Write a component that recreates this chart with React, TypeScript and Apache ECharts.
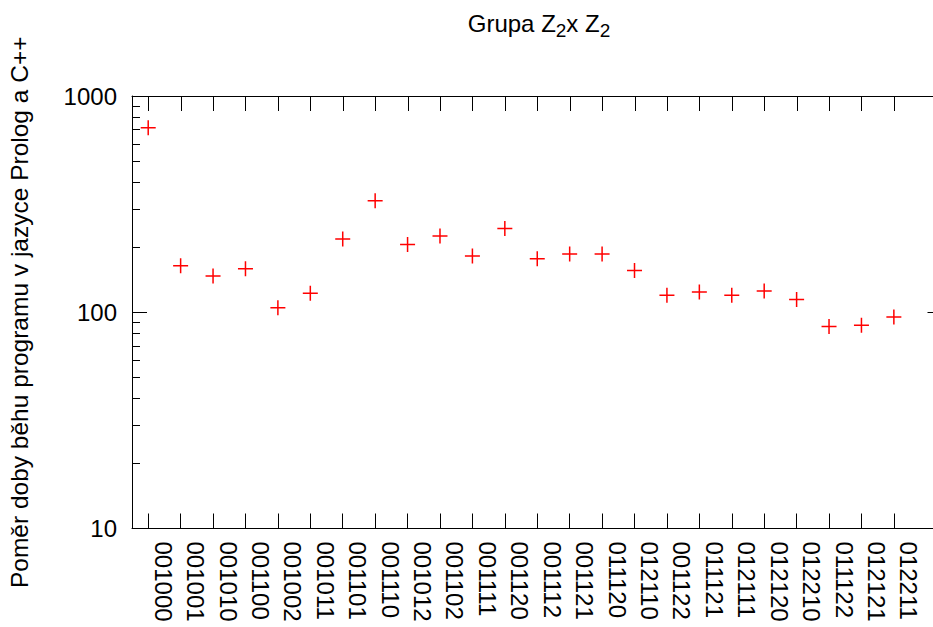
import React, { useEffect, useRef } from 'react';
import * as echarts from 'echarts';

const categories = [
  '001000', '001001', '001010', '001100', '001002', '001011', '001101', '001110',
  '001012', '001102', '001111', '001120', '001112', '001121', '011120', '012110',
  '001122', '011121', '012111', '012120', '012210', '011122', '012121', '012211',
];
const ratios = [
  713, 164, 147, 159, 105, 122.5, 218, 328,
  206, 225, 182, 244, 177, 186, 186, 156,
  120, 124, 120, 125.5, 114.5, 86, 87, 95,
];
const minorTickValues = [20, 30, 40, 50, 60, 70, 80, 90, 200, 300, 400, 500, 600, 700, 800, 900];
const titleText = 'Grupa Z{s|2}x Z{s|2}';
const yAxisName = 'Poměr doby běhu programu v jazyce Prolog a C++';

const FONT = '"Liberation Sans", Arial, sans-serif';
const PLUS = 'path://M0 6.75h15v1.5h-15z M6.75 0h1.5v15h-1.5z';

export default function App() {
  const ref = useRef<HTMLDivElement>(null);
  useEffect(() => {
    if (!ref.current) return;
    const chart = echarts.init(ref.current, null, { renderer: 'svg' });
    const axisCats = [...categories, ''];
    const tickInterval = (i: number) => i < categories.length;
    const tickStyle = { stroke: '#000', lineWidth: 1 };
    const option: any = {
      animation: false,
      backgroundColor: '#fff',
      title: {
        text: titleText,
        left: 534,
        textAlign: 'center',
        top: 2,
        textStyle: {
          fontSize: 24,
          fontWeight: 'normal',
          color: '#000',
          fontFamily: FONT,
          rich: {
            s: { fontSize: 19, padding: [14, 0, 0, 0], color: '#000', fontFamily: FONT },
          },
        },
      },
      grid: { left: 132, top: 96, width: 810.5, height: 432.5, outerBoundsMode: 'none', containLabel: false },
      xAxis: [
        {
          type: 'category',
          data: axisCats,
          position: 'bottom',
          boundaryGap: true,
          axisLine: { show: true, lineStyle: { color: '#000', width: 1 } },
          axisTick: { show: true, inside: true, length: 15, alignWithLabel: true, interval: tickInterval, lineStyle: { color: '#000', width: 1 } },
          axisLabel: {
            interval: 0,
            rotate: -90,
            margin: 13,
            fontSize: 24,
            fontFamily: FONT,
            color: '#000',
            verticalAlign: 'bottom',
            lineHeight: 30,
          },
          splitLine: { show: false },
        },
        {
          type: 'category',
          data: axisCats,
          position: 'top',
          boundaryGap: true,
          axisLine: { show: true, lineStyle: { color: '#000', width: 1 } },
          axisTick: { show: false },
          axisLabel: { show: false },
          splitLine: { show: false },
        },
      ],
      yAxis: [
        {
          type: 'log',
          logBase: 10,
          min: 10,
          max: 1000,
          position: 'left',
          name: yAxisName,
          nameLocation: 'middle',
          nameGap: 100,
          nameTextStyle: { fontSize: 24.5, fontFamily: FONT, color: '#000' },
          axisLine: { show: true, lineStyle: { color: '#000', width: 1 } },
          axisTick: { show: true, inside: true, length: 15, lineStyle: { color: '#000', width: 1 } },
          axisLabel: { margin: 15, fontSize: 24, fontFamily: FONT, color: '#000', formatter: (v: number) => String(v) },
          splitLine: { show: false },
        },
        {
          type: 'log',
          logBase: 10,
          min: 10,
          max: 1000,
          position: 'right',
          axisLine: { show: true, lineStyle: { color: '#000', width: 1 } },
          axisTick: { show: true, inside: true, length: 15, lineStyle: { color: '#000', width: 1 } },
          axisLabel: { show: false },
          splitLine: { show: false },
        },
      ],
      series: [
        {
          type: 'custom',
          xAxisIndex: 0,
          yAxisIndex: 0,
          silent: true,
          clip: false,
          data: minorTickValues.map((v) => [0, v]),
          encode: { x: 0, y: 1 },
          renderItem: (params: any, api: any) => {
            const y = Math.round(api.coord([0, api.value(1)])[1]) + 0.5;
            const cs = params.coordSys;
            return {
              type: 'group',
              children: [
                { type: 'line', shape: { x1: cs.x, y1: y, x2: cs.x + 8, y2: y }, style: tickStyle },
                { type: 'line', shape: { x1: cs.x + cs.width - 8, y1: y, x2: cs.x + cs.width, y2: y }, style: tickStyle },
              ],
            };
          },
        },
        {
          type: 'custom',
          xAxisIndex: 0,
          yAxisIndex: 0,
          silent: true,
          clip: false,
          data: categories.map((_, i) => [i, 10]),
          encode: { x: 0, y: 1 },
          renderItem: (params: any, api: any) => {
            const x = Math.round(api.coord([api.value(0), 10])[0]) + 0.5;
            const cs = params.coordSys;
            return {
              type: 'line',
              shape: { x1: x, y1: cs.y, x2: x, y2: cs.y + 15 },
              style: tickStyle,
            };
          },
        },
        {
          type: 'scatter',
          xAxisIndex: 0,
          yAxisIndex: 0,
          data: ratios,
          symbol: PLUS,
          symbolSize: 15,
          itemStyle: { color: '#ff0000', opacity: 1 },
        },
      ],
    };
    chart.setOption(option);
    return () => chart.dispose();
  }, []);
  return (
    <div
      ref={ref}
      style={{ position: 'absolute', left: 0, top: 0, width: 933, height: 627, background: '#fff' }}
    />
  );
}
